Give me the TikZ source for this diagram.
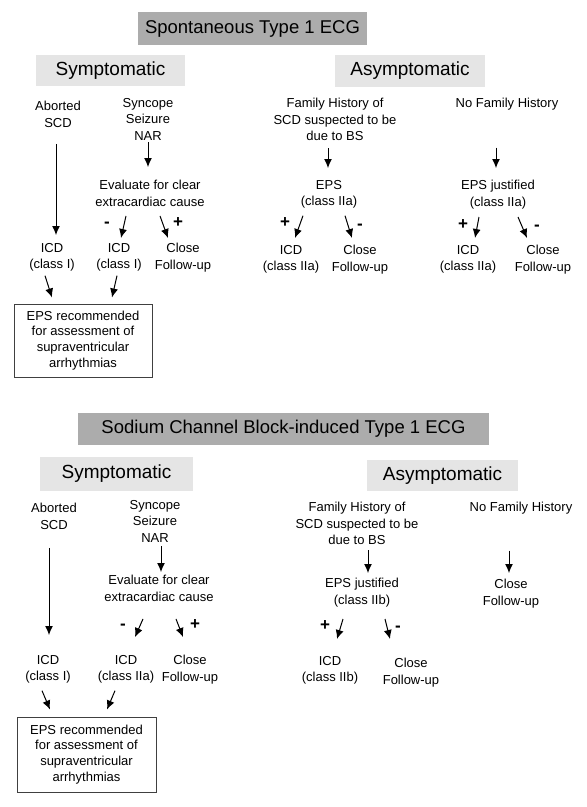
\documentclass[tikz,border=0pt]{standalone}
\usepackage{fontspec}
\setmainfont{Liberation Sans}
\usetikzlibrary{arrows.meta,positioning}

\begin{document}
\begin{tikzpicture}[x=1pt,y=-1pt,
  hdr/.style={fill=gray!65,inner sep=0pt,font=\fontsize{18.5}{20}\selectfont},
  sub/.style={fill=gray!20,inner sep=0pt,font=\fontsize{19}{21}\selectfont},
  txt/.style={align=center,inner sep=0pt,anchor=north,font=\fontsize{13}{16.5}\selectfont},
  sgn/.style={inner sep=0pt,font=\fontsize{17}{17}\selectfont\bfseries},
  epsbox/.style={draw=black!75,line width=1pt,align=center,inner sep=0pt,font=\fontsize{13}{15.8}\selectfont},
  >={Latex[length=9pt,width=8pt]},
  arr/.style={->,line width=1pt}]
\useasboundingbox (0,0) rectangle (587,807);

% spontaneous
\node[hdr,minimum width=229pt,minimum height=33pt] (spont) at (252.5,28.5) {Spontaneous Type 1 ECG};
\node[sub,minimum width=149pt,minimum height=31pt] (symA) at (110.5,70.5) {Symptomatic};
\node[sub,minimum width=150pt,minimum height=32pt] (asymA) at (410,71) {Asymptomatic};

\node[txt] (abortA) at (58,101) {Aborted\\SCD};
\node[txt] (syncA) at (148,98) {Syncope\\Seizure\\NAR};
\node[txt] (evalA) at (150,180) {Evaluate for clear\\extracardiac cause};
\node[txt] (icdA1) at (52,243) {ICD\\(class I)};
\node[txt] (icdA2) at (119,243) {ICD\\(class I)};
\node[txt] (closeA1) at (183,243) {Close\\Follow-up};
\node[epsbox,minimum width=138pt,minimum height=73pt] (epsA) at (83,340.5) {EPS recommended\\for assessment of\\supraventricular\\arrhythmias};
\node[sgn] (minA1) at (107,225) {-};
\node[sgn] (plusA1) at (178,223) {+};

\node[txt] (famA) at (335,98) {Family History of\\SCD suspected to be\\due to BS};
\node[txt] (epsA2) at (329,180) {EPS\\(class IIa)};
\node[txt] (icdA3) at (291,245) {ICD\\(class IIa)};
\node[txt] (closeA2) at (360,245) {Close\\Follow-up};
\node[sgn] (plusA2) at (285,223) {+};
\node[sgn] (minA2) at (360,227) {-};

\node[txt] (nofamA) at (507,98) {No Family History};
\node[txt] (epsA3) at (498,180) {EPS justified\\(class IIa)};
\node[txt] (icdA4) at (468,245) {ICD\\(class IIa)};
\node[txt] (closeA3) at (543,245) {Close\\Follow-up};
\node[sgn] (plusA3) at (463,225) {+};
\node[sgn] (minA3) at (537,228) {-};

\draw[arr] ([shift={(-2,16.5)}]abortA.south) -- ([shift={(4,-8)}]icdA1.north);
\draw[arr] ([shift={(0,2)}]syncA.south) -- ([shift={(-2,-13)}]evalA.north);
\draw[arr] ([shift={(-24,9.5)}]evalA.south) -- ([shift={(2,-5)}]icdA2.north);
\draw[arr] ([shift={(10,9.5)}]evalA.south) -- ([shift={(-15,-5)}]closeA1.north);
\draw[arr] ([shift={(-7,4)}]icdA1.south) -- ([shift={(-31,-6)}]epsA.north);
\draw[arr] ([shift={(-2,4)}]icdA2.south) -- ([shift={(29,-6)}]epsA.north);
\draw[arr] ([shift={(-7,7.5)}]famA.south) -- ([shift={(-1,-12)}]epsA2.north);
\draw[arr] ([shift={(-26,7)}]epsA2.south) -- ([shift={(4,-7)}]icdA3.north);
\draw[arr] ([shift={(16,7)}]epsA2.south) -- ([shift={(-8,-7)}]closeA2.north);
\draw[arr] ([shift={(-11,37)}]nofamA.south) -- ([shift={(-2,-12)}]epsA3.north);
\draw[arr] ([shift={(-19,8)}]epsA3.south) -- ([shift={(7,-7)}]icdA4.north);
\draw[arr] ([shift={(20,8)}]epsA3.south) -- ([shift={(-16,-7)}]closeA3.north);

% sodium channel block
\node[hdr,minimum width=411pt,minimum height=32pt] (sodium) at (283.5,429) {Sodium Channel Block-induced Type 1 ECG};
\node[sub,minimum width=153pt,minimum height=34pt] (symB) at (116.5,474) {Symptomatic};
\node[sub,minimum width=151pt,minimum height=31pt] (asymB) at (442.5,475.5) {Asymptomatic};

\node[txt] (abortB) at (54,503) {Aborted\\SCD};
\node[txt] (syncB) at (155,500) {Syncope\\Seizure\\NAR};
\node[txt] (evalB) at (159,575) {Evaluate for clear\\extracardiac cause};
\node[txt] (icdB1) at (48,655) {ICD\\(class I)};
\node[txt] (icdB2) at (126,655) {ICD\\(class IIa)};
\node[txt] (closeB1) at (190,655) {Close\\Follow-up};
\node[epsbox,minimum width=139pt,minimum height=75pt] (epsB) at (86.5,754.5) {EPS recommended\\for assessment of\\supraventricular\\arrhythmias};
\node[sgn] (minB1) at (123,627) {-};
\node[sgn] (plusB1) at (195,625) {+};

\node[txt] (famB) at (357,502) {Family History of\\SCD suspected to be\\due to BS};
\node[txt] (epsB2) at (362,578) {EPS justified\\(class IIb)};
\node[txt] (icdB3) at (330,656) {ICD\\(class IIb)};
\node[txt] (closeB2) at (411,658) {Close\\Follow-up};
\node[sgn] (plusB2) at (325,626) {+};
\node[sgn] (minB2) at (398,629) {-};

\node[txt] (nofamB) at (521,502) {No Family History};
\node[txt] (closeB3) at (511,579) {Close\\Follow-up};

\draw[arr] ([shift={(-5,18.5)}]abortB.south) -- ([shift={(1,-20)}]icdB1.north);
\draw[arr] ([shift={(6,4)}]syncB.south) -- ([shift={(2,-3)}]evalB.north);
\draw[arr] ([shift={(-16,17.5)}]evalB.south) -- ([shift={(9,-18)}]icdB2.north);
\draw[arr] ([shift={(17,17.5)}]evalB.south) -- ([shift={(-7,-18)}]closeB1.north);
\draw[arr] ([shift={(-6,7)}]icdB1.south) -- ([shift={(-36.5,-7)}]epsB.north);
\draw[arr] ([shift={(-11,7)}]icdB2.south) -- ([shift={(20.5,-7)}]epsB.north);
\draw[arr] ([shift={(11,5.5)}]famB.south) -- ([shift={(6,-5)}]epsB2.north);
\draw[arr] ([shift={(-19,12)}]epsB2.south) -- ([shift={(7,-17)}]icdB3.north);
\draw[arr] ([shift={(23,12)}]epsB2.south) -- ([shift={(-21,-19)}]closeB2.north);
\draw[arr] ([shift={(-12,36)}]nofamB.south) -- ([shift={(-2,-6)}]closeB3.north);
\end{tikzpicture}
\end{document}
